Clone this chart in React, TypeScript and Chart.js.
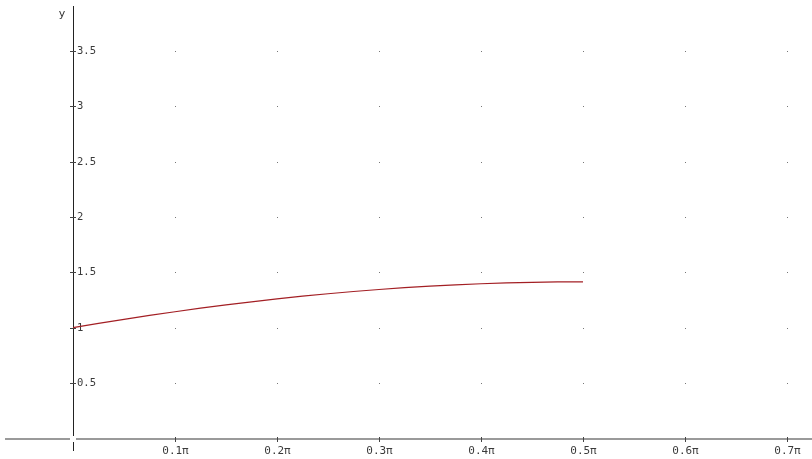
import React, { useEffect, useRef } from "react";
import { Chart, registerables } from "chart.js";

Chart.register(...registerables);

// Curve points (x in units of π)
const xValues = [0, 0.025, 0.05, 0.075, 0.1, 0.125, 0.15, 0.175, 0.2, 0.225, 0.25, 0.275, 0.3, 0.325, 0.35, 0.375, 0.4, 0.425, 0.45, 0.475, 0.5];
const yValues = [1, 1.0385, 1.0754, 1.1105, 1.1441, 1.1759, 1.2058, 1.2339, 1.2601, 1.2843, 1.3066, 1.3268, 1.345, 1.3611, 1.3751, 1.3871, 1.3968, 1.4044, 1.4098, 1.4131, 1.4142];

const xTicks = [0.1, 0.2, 0.3, 0.4, 0.5, 0.6, 0.7];
const xTickLabels = ["0.1π", "0.2π", "0.3π", "0.4π", "0.5π", "0.6π", "0.7π"];
const yTicks = [0.5, 1, 1.5, 2, 2.5, 3, 3.5];
const yTickLabels = ["0.5", "1", "1.5", "2", "2.5", "3", "3.5"];
const yAxisTitle = "y";

const X_MIN = -73 / 1020;
const X_MAX = (812 - 73) / 1020;
const Y_MAX = 438.5 / 110.8;
const Y_MIN = -(459 - 438.5) / 110.8;

const mathAxes = {
  id: "mathAxes",
  beforeDatasetsDraw(chart: any) {
    const ctx = chart.ctx as CanvasRenderingContext2D;
    const xs = chart.scales.x;
    const ys = chart.scales.y;
    const ox = Math.round(xs.getPixelForValue(0));
    const oy = Math.round(ys.getPixelForValue(0));
    ctx.save();
    // grid dots
    ctx.fillStyle = "#777";
    for (const xt of xTicks) {
      for (const yt of yTicks) {
        ctx.fillRect(Math.round(xs.getPixelForValue(xt)), Math.round(ys.getPixelForValue(yt)), 1, 1);
      }
    }
    // x axis (grey)
    ctx.fillStyle = "#9a9a9a";
    ctx.fillRect(5, oy - 1, ox - 3 - 5, 2);
    ctx.fillRect(ox + 3, oy - 1, 812 - (ox + 3), 2);
    // y axis (dark)
    ctx.fillStyle = "#222";
    ctx.fillRect(ox, 6, 1, oy - 3 - 6);
    ctx.fillRect(ox, oy + 3, 1, 9);
    // x ticks
    ctx.font = "11px 'DejaVu Sans Mono'";
    ctx.textAlign = "center";
    ctx.textBaseline = "middle";
    xTicks.forEach((xt, i) => {
      const px = Math.round(xs.getPixelForValue(xt));
      ctx.fillStyle = "#444";
      ctx.fillRect(px, oy - 2, 1, 5);
      ctx.fillStyle = "#3a3a3a";
      ctx.fillText(xTickLabels[i], px + 0.5, oy + 12.5);
    });
    // y ticks
    ctx.textAlign = "left";
    ctx.font = "10.5px 'DejaVu Sans Mono'";
    yTicks.forEach((yt, i) => {
      const py = Math.round(ys.getPixelForValue(yt));
      ctx.fillStyle = "#444";
      ctx.fillRect(ox - 3, py, 6, 1);
      ctx.fillStyle = "#3a3a3a";
      ctx.fillText(yTickLabels[i], ox + 4, py + 0.5);
    });
    // axis title
    ctx.font = "11px 'DejaVu Sans'";
    ctx.textAlign = "center";
    ctx.fillStyle = "#333";
    ctx.fillText(yAxisTitle, ox - 11, 14);
    ctx.restore();
  },
};

export default function App() {
  const ref = useRef<HTMLCanvasElement>(null);
  useEffect(() => {
    document.body.style.margin = "0";
    const canvas = ref.current!;
    const chart = new Chart(canvas, {
      type: "line",
      data: {
        datasets: [
          {
            data: xValues.map((x, i) => ({ x, y: yValues[i] })),
            borderColor: "#a31f24",
            borderWidth: 1.2,
            pointRadius: 0,
            tension: 0,
            fill: false,
          },
        ],
      },
      options: {
        responsive: false,
        animation: false,
        devicePixelRatio: 1,
        layout: { padding: 0 },
        plugins: { legend: { display: false }, tooltip: { enabled: false }, title: { display: false } },
        events: [],
        scales: {
          x: { type: "linear", min: X_MIN, max: X_MAX, display: false },
          y: { type: "linear", min: Y_MIN, max: Y_MAX, display: false },
        },
      },
      plugins: [mathAxes],
    });
    return () => chart.destroy();
  }, []);
  return (
    <div style={{ width: 812, height: 459, background: "#fff" }}>
      <canvas ref={ref} width={812} height={459} style={{ display: "block" }} />
    </div>
  );
}
